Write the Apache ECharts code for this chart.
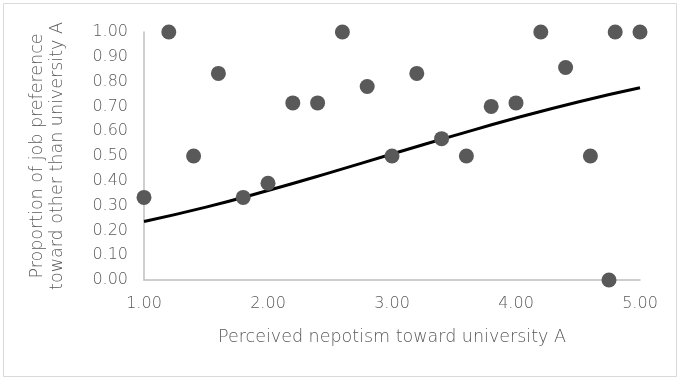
<!DOCTYPE html>
<html><head><meta charset="utf-8">
<script src="https://cdn.jsdelivr.net/npm/echarts@6/dist/echarts.min.js"></script>
<style>html,body{margin:0;padding:0;background:#fff}#c{width:680px;height:379px}</style>
</head><body><div id="c"></div>
<script>
// Observed points: perceived nepotism (x) vs proportion of job preference (y)
const nepotism = [1.00,1.20,1.40,1.60,1.80,2.00,2.20,2.40,2.60,2.80,3.00,3.20,3.40,3.60,3.80,4.00,4.20,4.40,4.60,4.75,4.80,5.00];
const proportion = [0.333,1.00,0.50,0.833,0.333,0.39,0.714,0.714,1.00,0.78,0.50,0.833,0.57,0.50,0.70,0.714,1.00,0.857,0.50,0.00,1.00,1.00];
// Fitted curve
const curveX = [1.0,1.5,2.0,2.5,3.0,3.5,4.0,4.5,5.0];
const curveY = [0.236,0.294,0.361,0.433,0.508,0.582,0.653,0.718,0.775];
const xTitle = 'Perceived nepotism toward university A';
const yTitle = 'Proportion of job preference\ntoward other than university A';

const FONT = 'DejaVu Sans';
const TXT = '#595959';
const chart = echarts.init(document.getElementById('c'), null, {renderer:'canvas'});
chart.setOption({
  animation:false,
  backgroundColor:'#fff',
  graphic:[{type:'rect',shape:{x:3.5,y:3.5,width:673,height:373},style:{fill:'none',stroke:'#d9d9d9',lineWidth:1}}],
  grid:{left:144,right:40,top:32,bottom:99},
  xAxis:{type:'value',min:1,max:5,interval:1,
    name:xTitle,nameLocation:'middle',nameGap:48,
    nameTextStyle:{color:TXT,fontSize:17.5,fontFamily:FONT,fontWeight:200},
    axisLine:{lineStyle:{color:'#bfbfbf',width:1.5}},axisTick:{show:false},splitLine:{show:false},
    axisLabel:{formatter:v=>v.toFixed(2),color:TXT,fontSize:16,fontFamily:FONT,fontWeight:200,margin:16}},
  yAxis:{type:'value',min:0,max:1,interval:0.1,
    name:yTitle,nameLocation:'middle',nameGap:77,nameRotate:90,
    nameTextStyle:{color:TXT,fontSize:17.5,fontFamily:FONT,fontWeight:200,lineHeight:20},
    axisLine:{show:true,lineStyle:{color:'#bfbfbf',width:1.5}},axisTick:{show:false},splitLine:{show:false},
    axisLabel:{formatter:v=>v.toFixed(2),color:TXT,fontSize:16,fontFamily:FONT,fontWeight:200,margin:16}},
  series:[
    {type:'line',data:curveX.map((x,i)=>[x,curveY[i]]),smooth:true,showSymbol:false,
     lineStyle:{color:'#000',width:3},z:2},
    {type:'scatter',data:nepotism.map((x,i)=>[x,proportion[i]]),symbolSize:15,
     itemStyle:{color:'#595959',opacity:1},z:3}
  ]
});
</script></body></html>
